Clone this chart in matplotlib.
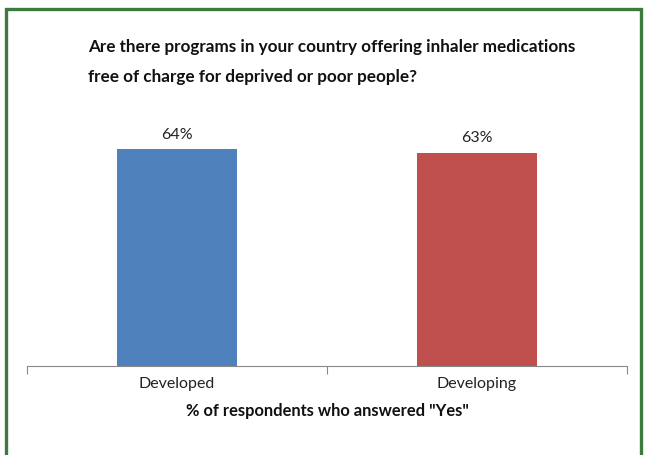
import matplotlib.pyplot as plt
from matplotlib.patches import Rectangle

categories = ["Developed", "Developing"]
values = [64, 63]
colors = ["#4F81BD", "#C0504D"]

title_lines = ["Are there programs in your country offering inhaler medications",
               "free of charge for deprived or poor people?"]
xlabel = '% of respondents who answered "Yes"'

W, H = 646, 455
fig = plt.figure(figsize=(W / 100, H / 100), dpi=100)
plt.rcParams['font.family'] = ['Lato', 'DejaVu Sans']

# axes placed in pixel terms
left, right, bottom, top = 27, 627, 366, 129
ax = fig.add_axes([left / W, 1 - bottom / H, (right - left) / W, (bottom - top) / H])

x = range(len(categories))
bars = ax.bar(x, values, width=0.4, color=colors)
ax.set_xlim(-0.5, 1.5)
ax.set_ylim(0, 70)

for i, v in enumerate(values):
    ax.text(i, v + 2.3, f"{v}%", ha="center", va="bottom", fontsize=11.5, color="#222222")

for s in ["top", "right", "left"]:
    ax.spines[s].set_visible(False)
ax.spines["bottom"].set_color("#888888")
ax.set_yticks([])
ax.set_xticks([-0.5, 0.5, 1.5])
ax.set_xticklabels([])
ax.tick_params(axis="x", length=6, color="#888888", direction="out")

for i, c in enumerate(categories):
    fig.text((left + (i + 0.5) * 300) / W, 1 - 384 / H, c, ha="center", va="center",
             fontsize=11.5, color="#222222")

fig.text(327 / W, 1 - 411 / H, xlabel, ha="center", va="center",
         fontsize=11.9, fontweight="bold", color="#111111")

fig.text(88 / W, 1 - 47 / H, title_lines[0], ha="left", va="center",
         fontsize=12.3, fontweight="bold", color="#111111")
fig.text(88 / W, 1 - 77 / H, title_lines[1], ha="left", va="center",
         fontsize=12.3, fontweight="bold", color="#111111")

# green frame
fig.patches.append(Rectangle((6 / W, -0.1), (641 - 6) / W, 1.1 - 9 / H,
                             transform=fig.transFigure, fill=False,
                             edgecolor="#3D7A3D", linewidth=2.4))

fig.savefig("out.png", dpi=100)
